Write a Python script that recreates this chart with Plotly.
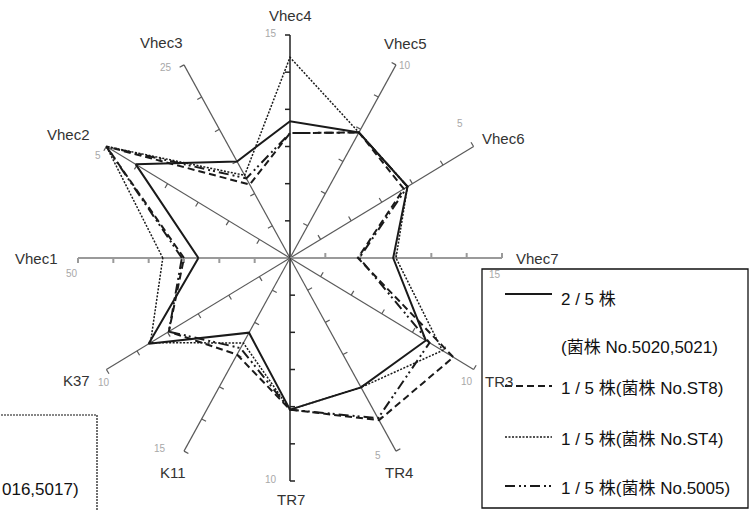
import math
import plotly.graph_objects as go

# ---- data -------------------------------------------------------------
axis_names = ["Vhec1", "Vhec2", "Vhec3", "Vhec4", "Vhec5", "Vhec6",
              "Vhec7", "TR3", "TR4", "TR7", "K11", "K37"]
axis_max = [50, 5, 25, 15, 10, 5, 15, 10, 5, 10, 15, 10]
axis_max_labels = ["50", "5", "25", "15", "10", "5", "15", "10", "5", "10", "15", "10"]

series_labels = ["2 / 5 株", "1 / 5 株(菌株 No.ST8)", "1 / 5 株(菌株 No.ST4)", "1 / 5 株(菌株 No.5005)"]
values_2of5 = [21.6, 4.2, 12.5, 9.2, 6.5, 3.2, 7.3, 7.4, 3.35, 6.8, 5.8, 7.7]
values_st8 = [25.0, 5.0, 9.5, 8.4, 6.5, 3.1, 4.8, 8.9, 4.2, 6.8, 7.5, 6.6]
values_st4 = [30.0, 5.0, 10.7, 13.5, 6.5, 3.2, 7.5, 8.3, 3.35, 6.8, 6.6, 7.6]
values_5005 = [25.5, 5.0, 10.3, 8.4, 6.5, 3.2, 4.9, 7.6, 4.15, 6.8, 7.0, 6.6]

legend_extra = "(菌株 No.5020,5021)"
left_box_text = "016,5017)"

# ---- geometry (pixel units: 1 data unit == 1 screen pixel) -------------
W, H = 756, 511
CX, CY = 290, 258          # centre of the star
RX, RY = 212, 223          # spoke length horizontally / vertically
N_DIV = 6
TICK_LEN = 5


def X(px):
    return px - CX


def Y(py):
    return CY - py


def spoke_angle(i):
    return math.radians(180 - 30 * i)


def to_xy(frac, i):
    a = spoke_angle(i)
    return RX * frac * math.cos(a), RY * frac * math.sin(a)


FONT = "Arial, 'Liberation Sans', 'Noto Sans CJK JP', sans-serif"

fig = go.Figure()

# ---- spokes with tick marks ---------------------------------------------
for i, name in enumerate(axis_names):
    ex, ey = to_xy(1.0, i)
    a = spoke_angle(i)
    if abs(math.cos(a)) < 1e-6:
        color, width = "#222222", 1.5
    elif abs(math.sin(a)) < 1e-6:
        color, width = "#9a9a9a", 2.0
    else:
        color, width = "#5a5a5a", 1.2
    xs, ys = [0, ex, None], [0, ey, None]
    L = math.hypot(ex, ey)
    ux, uy = ex / L, ey / L
    nx, ny = -uy, ux
    for k in range(1, N_DIV + 1):
        px, py = to_xy(k / N_DIV, i)
        xs += [px, px + TICK_LEN * nx, None]
        ys += [py, py + TICK_LEN * ny, None]
    fig.add_trace(go.Scatter(x=xs, y=ys, mode="lines", hoverinfo="skip",
                             line=dict(color=color, width=width), showlegend=False))

# ---- series polygons ----------------------------------------------------
series_values = [values_2of5, values_st8, values_st4, values_5005]
series_styles = [
    dict(color="#1a1a1a", width=2.0, dash="solid"),
    dict(color="#1a1a1a", width=2.0, dash="7px,4px"),
    dict(color="#1a1a1a", width=1.5, dash="2px,1.5px"),
    dict(color="#1a1a1a", width=2.0, dash="10px,4px,2px,3px,2px,4px"),
]
draw_order = [2, 3, 1, 0]
for s in draw_order:
    vals = series_values[s]
    pts = [to_xy(v / m, i) for i, (v, m) in enumerate(zip(vals, axis_max))]
    pts.append(pts[0])
    fig.add_trace(go.Scatter(x=[p[0] for p in pts], y=[p[1] for p in pts],
                             mode="lines", name=series_labels[s],
                             line=series_styles[s], showlegend=False))

# ---- axis names and end-of-scale labels ---------------------------------
name_pos = {
    "Vhec1": (36, 258), "Vhec2": (68, 134), "Vhec3": (161, 42), "Vhec4": (290, 15),
    "Vhec5": (405, 43), "Vhec6": (503, 138), "Vhec7": (537, 258), "TR3": (499, 381),
    "TR4": (399, 472), "TR7": (291, 499), "K11": (173, 472), "K37": (76, 380),
}
max_pos = {
    "Vhec1": (72, 273), "Vhec2": (98, 155), "Vhec3": (166, 67), "Vhec4": (271, 33),
    "Vhec5": (405, 65), "Vhec6": (460, 123), "Vhec7": (495, 274), "TR3": (467, 381),
    "TR4": (378, 455), "TR7": (271, 479), "K11": (160, 448), "K37": (104, 382),
}
annotations = []
for i, name in enumerate(axis_names):
    px, py = name_pos[name]
    annotations.append(dict(x=X(px), y=Y(py), text=name, showarrow=False,
                            xanchor="center", yanchor="middle",
                            font=dict(family=FONT, size=15, color="#333333")))
    mx, my = max_pos[name]
    annotations.append(dict(x=X(mx), y=Y(my), text=axis_max_labels[i], showarrow=False,
                            xanchor="center", yanchor="middle",
                            font=dict(family=FONT, size=10, color="#a8a8a8")))

# ---- legend box ---------------------------------------------------------
shapes = [dict(type="rect", xref="x", yref="y", x0=X(482), x1=X(748), y0=Y(269), y1=Y(508),
               line=dict(color="#111111", width=1.3), fillcolor="rgba(0,0,0,0)", layer="below")]
legend_rows = [299, 388, 439, 488]
for s, row in enumerate(legend_rows):
    st = series_styles[s]
    ly = row - (5 if s == 0 else 2)
    shapes.append(dict(type="line", xref="x", yref="y", x0=X(505), x1=X(552),
                       y0=Y(ly), y1=Y(ly),
                       line=dict(color=st["color"], width=st["width"], dash=st["dash"])))
    annotations.append(dict(x=X(559), y=Y(row), text=series_labels[s], showarrow=False,
                            xanchor="left", yanchor="middle",
                            font=dict(family=FONT, size=17, color="#111111")))
annotations.append(dict(x=X(559), y=Y(347), text=legend_extra, showarrow=False,
                        xanchor="left", yanchor="middle",
                        font=dict(family=FONT, size=17, color="#111111")))

# second legend box at the lower left
shapes.append(dict(type="rect", xref="x", yref="y", x0=X(-5), x1=X(97), y0=Y(415), y1=Y(520),
                   line=dict(color="#111111", width=1.2, dash="2px,1px"),
                   fillcolor="rgba(0,0,0,0)", layer="below"))
annotations.append(dict(x=X(0), y=Y(489), text=left_box_text, showarrow=False,
                        xanchor="left", yanchor="middle",
                        font=dict(family=FONT, size=17, color="#111111")))

fig.update_layout(
    width=W, height=H,
    margin=dict(l=0, r=0, t=0, b=0),
    paper_bgcolor="white", plot_bgcolor="white",
    xaxis=dict(range=[X(0), X(W)], visible=False, fixedrange=True),
    yaxis=dict(range=[Y(H), Y(0)], visible=False, fixedrange=True),
    shapes=shapes, annotations=annotations, showlegend=False,
)

fig.write_html("out.html")
